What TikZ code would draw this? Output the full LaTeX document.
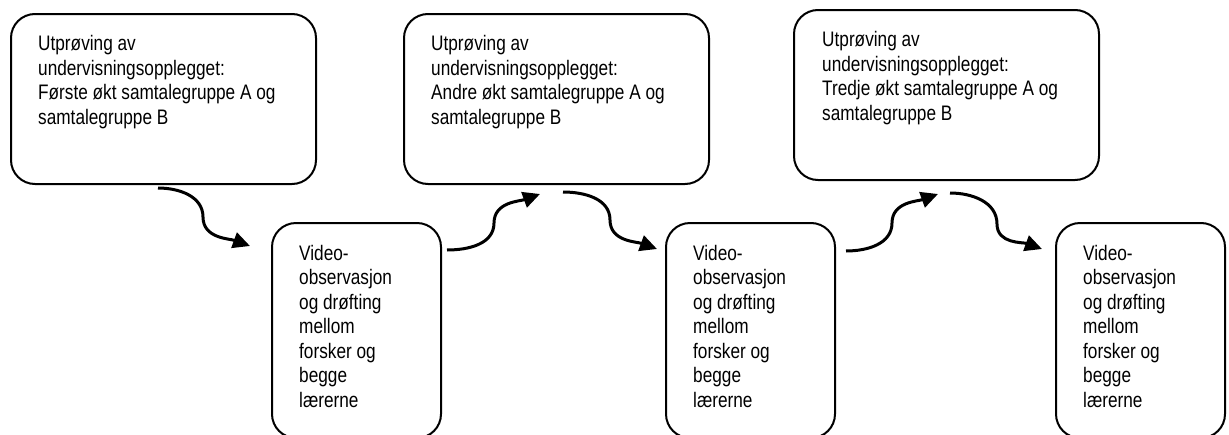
\documentclass[tikz,border=0pt]{standalone}
\usepackage{fontspec}
\setmainfont{Liberation Sans}[FakeStretch=0.82]
\usetikzlibrary{arrows.meta}

\begin{document}
\begin{tikzpicture}[x=1pt, y=1pt,
    boks/.style={draw, line width=2pt, rounded corners=24pt, anchor=north west, inner sep=0pt},
    okt/.style={boks, minimum width=305pt, minimum height=170pt},
    video/.style={boks, minimum width=169pt, minimum height=215pt},
    tekst/.style={anchor=north west, align=left, inner sep=0pt, font=\fontsize{21}{24.5}\selectfont},
    pil/.style={line width=3pt, -{Triangle[length=17pt,width=16pt]}}]
  \useasboundingbox (0,0) rectangle (1229,-434);
  \clip (0,0) rectangle (1229,-434);

  % utproving
  \node[okt] (okt1) at (10,-13) {};
  \node[okt] (okt2) at (403,-13) {};
  \node[okt] (okt3) at (793,-9) {};
  \node[tekst] (okt1tekst) at ([xshift=28pt,yshift=-22.5pt]okt1.north west)
    {Utprøving av\\undervisningsopplegget:\\Første økt samtalegruppe A og\\samtalegruppe B};
  \node[tekst] (okt2tekst) at ([xshift=28pt,yshift=-22.5pt]okt2.north west)
    {Utprøving av\\undervisningsopplegget:\\Andre økt samtalegruppe A og\\samtalegruppe B};
  \node[tekst] (okt3tekst) at ([xshift=29pt,yshift=-22.5pt]okt3.north west)
    {Utprøving av\\undervisningsopplegget:\\Tredje økt samtalegruppe A og\\samtalegruppe B};

  % drofting
  \foreach \i/\x in {1/271, 2/665, 3/1055} {
    \node[video] (video\i) at (\x,-222) {};
    \node[tekst] (video\i tekst) at ([xshift=28pt,yshift=-23pt]video\i.north west)
      {Video-\\observasjon\\og drøfting\\mellom\\forsker og\\begge\\lærerne};
  }

  % piler
  \coordinate (ned1a) at (158,-188);
  \coordinate (ned1b) at (203,-217);
  \coordinate (ned1c) at (250,-246);
  \coordinate (opp1a) at (447,-250);
  \coordinate (opp1b) at (494,-223);
  \coordinate (opp1c) at (540,-194);
  \coordinate (ned2a) at (563,-192);
  \coordinate (ned2b) at (610,-220);
  \coordinate (ned2c) at (657,-249);
  \coordinate (opp2a) at (846,-251);
  \coordinate (opp2b) at (892,-223);
  \coordinate (opp2c) at (938,-194);
  \coordinate (ned3a) at (950,-193);
  \coordinate (ned3b) at (997,-224);
  \coordinate (ned3c) at (1042,-249);
  \foreach \n in {ned1, ned2, ned3}
    \draw[pil] (\n a) to[out=0,in=90] (\n b) to[out=-90,in=160] (\n c);
  \foreach \n in {opp1, opp2}
    \draw[pil] (\n a) to[out=0,in=-90] (\n b) to[out=90,in=200] (\n c);
\end{tikzpicture}
\end{document}
